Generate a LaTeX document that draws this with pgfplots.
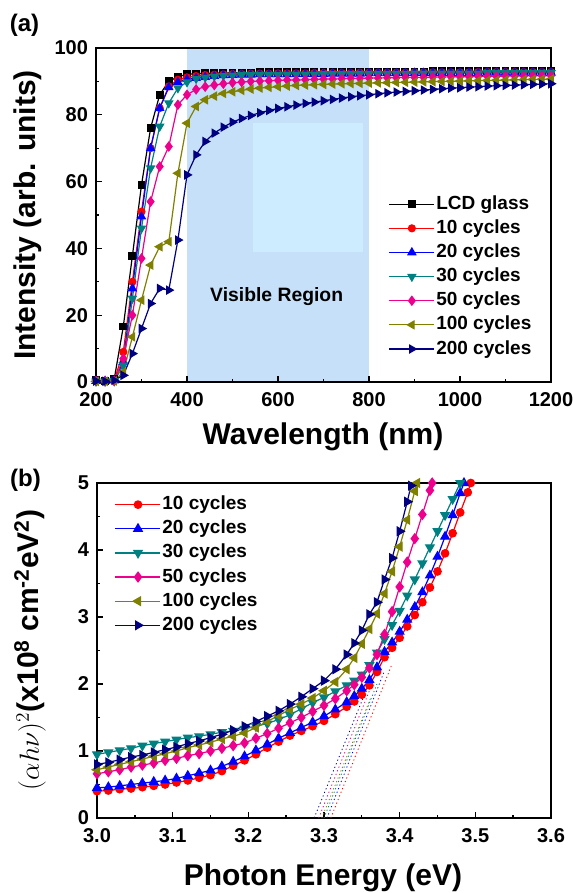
\documentclass[border=0pt]{standalone}
\usepackage[no-math]{fontspec}
\setmainfont{Liberation Sans}
\usepackage{pgfplots}
\usepackage{pgfplotstable}
\pgfplotsset{compat=1.18}

\definecolor{visblue}{RGB}{198,224,250}
\definecolor{visblue2}{RGB}{206,236,255}
\definecolor{cteal}{RGB}{0,128,128}
\definecolor{colive}{RGB}{128,128,0}
\definecolor{cnavy}{RGB}{0,0,128}

% transmittance, every 20 nm
\pgfplotstableread{
lam  glass c10  c20  c30  c50  c100  c200
200  0.5   0.3  0.3  0.2  0.3  0.2   0.3
220  0.4   0.3  0.3  0.2  0.2  0.2   0.2
240  0.8   0.5  0.4  0.3  0.3  0.3   0.5
260  16.6  9.0  6.0  5.0  7.0  3.0   2.0
280  37.8  30.0 28.0 25.0 20.0 13.5  8.5
300  59.0  51.0 49.5 46.0 37.0 24.5  16.0
320  76.0  70.0 70.0 64.0 54.0 35.0  23.5
340  86.0  82.0 82.0 76.5 64.5 40.5  28.0
360  90.0  88.5 88.2 83.5 70.5 42.0  27.5
380  91.4  90.5 89.8 88.0 83.0 62.5  42.5
400  92.1  91.2 90.6 89.8 86.0 77.5  62.0
420  92.3  91.6 91.0 90.8 87.6 82.5  68.0
440  92.4  91.9 91.3 91.2 88.4 84.5  72.0
460  92.5  92.0 91.6 91.5 88.9 85.6  74.5
480  92.5  92.1 91.8 91.7 89.3 86.4  76.3
500  92.6  92.2 91.9 91.8 89.6 86.9  77.8
520  92.6  92.2 92.0 91.9 89.8 87.3  78.9
540  92.6  92.3 92.0 91.9 90.0 87.7  79.8
560  92.7  92.3 92.1 92.0 90.1 88.0  80.6
580  92.7  92.3 92.1 92.0 90.2 88.2  81.3
600  92.7  92.4 92.1 92.0 90.3 88.4  81.9
620  92.7  92.4 92.1 92.1 90.4 88.6  82.4
640  92.7  92.4 92.2 92.1 90.4 88.8  82.9
660  92.8  92.4 92.2 92.1 90.5 88.9  83.4
680  92.8  92.5 92.2 92.1 90.6 89.0  83.8
700  92.8  92.5 92.2 92.2 90.7 89.1  84.2
720  92.8  92.5 92.3 92.2 90.7 89.2  84.6
740  92.8  92.5 92.3 92.2 90.8 89.3  85.0
760  92.8  92.5 92.3 92.2 90.9 89.35 85.4
780  92.9  92.6 92.3 92.3 90.9 89.4  85.7
800  92.9  92.6 92.4 92.3 91.0 89.5  86.0
820  92.9  92.6 92.4 92.3 91.0 89.56 86.3
840  92.9  92.6 92.4 92.3 91.1 89.62 86.6
860  92.9  92.6 92.4 92.3 91.1 89.68 86.8
880  92.9  92.6 92.4 92.3 91.2 89.74 87.0
900  92.9  92.7 92.5 92.4 91.2 89.8  87.2
920  92.9  92.7 92.5 92.4 91.2 89.86 87.4
940  93.0  92.7 92.5 92.4 91.3 89.92 87.6
960  93.0  92.7 92.5 92.4 91.3 89.98 87.8
980  93.0  92.7 92.5 92.4 91.4 90.04 88.0
1000 93.0  92.7 92.5 92.4 91.4 90.1  88.1
1020 93.0  92.7 92.5 92.4 91.4 90.16 88.3
1040 93.0  92.8 92.5 92.4 91.5 90.22 88.4
1060 93.0  92.8 92.6 92.5 91.5 90.28 88.6
1080 93.0  92.8 92.6 92.5 91.5 90.34 88.7
1100 93.0  92.8 92.6 92.5 91.6 90.4  88.8
1120 93.0  92.8 92.6 92.5 91.6 90.46 88.9
1140 93.0  92.8 92.6 92.5 91.6 90.52 89.0
1160 93.0  92.8 92.6 92.5 91.7 90.58 89.1
1180 93.0  92.8 92.6 92.5 91.7 90.64 89.2
1200 93.0  92.8 92.6 92.5 91.7 90.7  89.3
}\transdata

\pgfplotsset{
  panel/.style={
    scale only axis, anchor=south west,
    axis line style={line width=1.1pt},
    tick style={line width=1pt, black},
    tick align=inside, xtick pos=bottom, ytick pos=left,
    major tick length=4.5pt, minor tick length=2.5pt,
    minor x tick num=1, minor y tick num=1,
    /pgf/number format/assume math mode=true,
    /pgf/number format/1000 sep={},
    tick label style={font=\fontsize{15}{15}\selectfont\bfseries},
    xticklabel style={yshift=-4.5pt},
    yticklabel style={xshift=-2.5pt},
    legend cell align=left,
    legend image code/.code={%
      \draw[mark repeat=2, mark phase=2, #1] plot coordinates {(0pt,0pt) (16.9pt,0pt) (33.75pt,0pt)};},
    legend style={draw=none, fill=none, anchor=north west,
      font=\fontsize{14.25}{14.25}\selectfont\bfseries, row sep=2.6pt,
      nodes={inner sep=1pt, text height=10.5pt, text depth=3pt}},
    every axis plot/.append style={line width=0.9pt, mark options={solid}},
  },
}

\begin{document}
\begin{tikzpicture}
% (a) transmittance
\begin{axis}[panel, at={(72pt,383.25pt)}, width=341.25pt, height=250.5pt,
  xmin=200, xmax=1200, ymin=0, ymax=100,
  xtick={200,400,...,1200}, ytick={0,20,...,100},
  axis on top,
  legend style={at={(rel axis cs:0.634,0.572)}},
]
\fill[visblue] (axis cs:400,0) rectangle (axis cs:800,100);
\fill[visblue2] (axis cs:545,38.9) rectangle (axis cs:787,77.6);
\node[font=\fontsize{14.5}{14.5}\selectfont\bfseries] at (axis cs:597,25.5) {Visible Region};
\addplot[black, mark=square*, mark size=2.5pt] table[x=lam, y=glass] {\transdata};
\addlegendentry{LCD glass}
\addplot[red, mark=*, mark size=2.6pt] table[x=lam, y=c10] {\transdata};
\addlegendentry{10 cycles}
\addplot[blue, mark=triangle*, mark size=3.3pt] table[x=lam, y=c20] {\transdata};
\addlegendentry{20 cycles}
\addplot[cteal, mark=triangle*, mark size=3.3pt, mark options={rotate=180}] table[x=lam, y=c30] {\transdata};
\addlegendentry{30 cycles}
\addplot[magenta, mark=diamond*, mark size=3.3pt] table[x=lam, y=c50] {\transdata};
\addlegendentry{50 cycles}
\addplot[colive, mark=triangle*, mark size=3.3pt, mark options={rotate=90}] table[x=lam, y=c100] {\transdata};
\addlegendentry{100 cycles}
\addplot[cnavy, mark=triangle*, mark size=3.3pt, mark options={rotate=-90}] table[x=lam, y=c200] {\transdata};
\addlegendentry{200 cycles}
\end{axis}

% (b) Tauc plot
\begin{axis}[panel, at={(72.75pt,56.25pt)}, width=340.5pt, height=251.25pt,
  xmin=3.0, xmax=3.6, ymin=0, ymax=5,
  xtick={3.0,3.1,...,3.61}, ytick={0,1,...,5},
  xticklabel style={/pgf/number format/.cd, fixed, fixed zerofill, precision=1},
  legend style={at={(rel axis cs:0.03,0.975)}},
]
\addplot[red, mark=*, mark size=2.8pt] coordinates {
(3.000,0.40) (3.015,0.41) (3.030,0.43) (3.045,0.44) (3.060,0.46) (3.075,0.48)
(3.090,0.50) (3.105,0.53) (3.120,0.56) (3.135,0.60) (3.150,0.64) (3.165,0.70)
(3.180,0.78) (3.195,0.86) (3.210,0.95) (3.225,1.05) (3.240,1.14) (3.255,1.23)
(3.270,1.30) (3.285,1.37) (3.300,1.45) (3.315,1.55) (3.330,1.66) (3.340,1.74)
(3.350,1.84) (3.360,1.98) (3.370,2.18) (3.380,2.40) (3.390,2.54) (3.400,2.69)
(3.410,2.86) (3.420,3.03) (3.430,3.22) (3.440,3.44) (3.450,3.68) (3.460,3.95)
(3.470,4.25) (3.480,4.56) (3.490,4.86) (3.494,5.00)};
\addlegendentry{10 cycles}
\addplot[blue, mark=triangle*, mark size=3.6pt] coordinates {
(3.000,0.45) (3.015,0.46) (3.030,0.48) (3.045,0.50) (3.060,0.52) (3.075,0.54)
(3.090,0.56) (3.105,0.59) (3.120,0.63) (3.135,0.67) (3.150,0.71) (3.165,0.77)
(3.180,0.84) (3.195,0.92) (3.210,1.01) (3.225,1.10) (3.240,1.19) (3.255,1.27)
(3.270,1.35) (3.285,1.43) (3.300,1.52) (3.315,1.62) (3.330,1.73) (3.340,1.82)
(3.350,1.93) (3.360,2.06) (3.370,2.25) (3.380,2.48) (3.390,2.62) (3.400,2.78)
(3.410,2.96) (3.420,3.15) (3.430,3.37) (3.440,3.62) (3.450,3.90) (3.460,4.20)
(3.470,4.52) (3.480,4.85) (3.485,5.00)};
\addlegendentry{20 cycles}
\addplot[cteal, mark=triangle*, mark size=3.6pt, mark options={rotate=180}] coordinates {
(3.000,0.95) (3.015,0.98) (3.030,1.01) (3.045,1.04) (3.060,1.08) (3.075,1.11)
(3.090,1.14) (3.105,1.17) (3.120,1.20) (3.135,1.22) (3.150,1.25) (3.165,1.28)
(3.180,1.30) (3.195,1.33) (3.210,1.37) (3.225,1.41) (3.240,1.47) (3.255,1.54)
(3.270,1.63) (3.285,1.72) (3.300,1.80) (3.315,1.89) (3.330,1.98) (3.340,2.05)
(3.350,2.14) (3.360,2.28) (3.370,2.47) (3.380,2.67) (3.390,2.88) (3.400,3.09)
(3.410,3.32) (3.420,3.56) (3.430,3.80) (3.440,4.04) (3.450,4.28) (3.460,4.52)
(3.470,4.76) (3.480,5.00)};
\addlegendentry{30 cycles}
\addplot[magenta, mark=diamond*, mark size=3.6pt] coordinates {
(3.000,0.66) (3.015,0.69) (3.030,0.72) (3.045,0.76) (3.060,0.79) (3.075,0.82)
(3.090,0.86) (3.105,0.89) (3.120,0.93) (3.135,0.96) (3.150,1.00) (3.165,1.04)
(3.180,1.08) (3.195,1.12) (3.210,1.19) (3.225,1.26) (3.240,1.34) (3.255,1.42)
(3.270,1.50) (3.285,1.59) (3.300,1.68) (3.315,1.78) (3.330,1.90) (3.340,1.99)
(3.350,2.10) (3.360,2.24) (3.370,2.44) (3.380,2.74) (3.390,3.08) (3.400,3.45)
(3.410,3.82) (3.420,4.17) (3.430,4.53) (3.440,4.89) (3.443,5.00)};
\addlegendentry{50 cycles}
\addplot[colive, mark=triangle*, mark size=3.6pt, mark options={rotate=90}] coordinates {
(3.000,0.72) (3.015,0.76) (3.030,0.80) (3.045,0.84) (3.060,0.88) (3.075,0.92)
(3.090,0.96) (3.105,1.00) (3.120,1.05) (3.135,1.09) (3.150,1.13) (3.165,1.18)
(3.180,1.22) (3.195,1.27) (3.210,1.35) (3.225,1.44) (3.240,1.53) (3.255,1.62)
(3.270,1.70) (3.285,1.79) (3.300,1.90) (3.315,2.03) (3.330,2.22) (3.340,2.39)
(3.350,2.60) (3.360,2.82) (3.370,3.05) (3.380,3.35) (3.390,3.68) (3.400,4.05)
(3.410,4.45) (3.420,4.88) (3.423,5.00)};
\addlegendentry{100 cycles}
\addplot[cnavy, mark=triangle*, mark size=3.6pt, mark options={rotate=-90}] coordinates {
(3.000,0.80) (3.015,0.83) (3.030,0.87) (3.045,0.91) (3.060,0.94) (3.075,0.98)
(3.090,1.02) (3.105,1.06) (3.120,1.11) (3.135,1.15) (3.150,1.20) (3.165,1.25)
(3.180,1.31) (3.195,1.37) (3.210,1.44) (3.225,1.52) (3.240,1.60) (3.255,1.70)
(3.270,1.81) (3.285,1.93) (3.300,2.05) (3.315,2.22) (3.330,2.44) (3.340,2.61)
(3.350,2.80) (3.360,3.04) (3.370,3.22) (3.380,3.56) (3.390,3.88) (3.400,4.28)
(3.410,4.72) (3.415,4.96)};
\addlegendentry{200 cycles}
% linear fits to the absorption edge
\addplot[cnavy, dotted, line width=0.6pt, forget plot] coordinates {(3.287,0) (3.352,1.8)};
\addplot[magenta, dotted, line width=0.6pt, forget plot] coordinates {(3.293,0) (3.360,1.9)};
\addplot[colive, dotted, line width=0.6pt, forget plot] coordinates {(3.297,0) (3.362,1.8)};
\addplot[cteal, dotted, line width=0.6pt, forget plot] coordinates {(3.300,0) (3.370,2.0)};
\addplot[blue, dotted, line width=0.6pt, forget plot] coordinates {(3.304,0) (3.380,2.2)};
\addplot[red, dotted, line width=0.6pt, forget plot] coordinates {(3.309,0) (3.390,2.3)};
\end{axis}

% labels
\node[font=\fontsize{18}{18}\selectfont\bfseries] at (18.4pt,651pt) {(a)};
\node[font=\fontsize{18}{18}\selectfont\bfseries] at (19.1pt,309.75pt) {(b)};
\node[font=\fontsize{22.5}{22.5}\selectfont\bfseries] at (242.25pt,342pt) {Wavelength (nm)};
\node[font=\fontsize{22.5}{22.5}\selectfont\bfseries, rotate=90] at (21pt,508.5pt) {Intensity (arb. units)};
\node[font=\fontsize{22.5}{22.5}\selectfont\bfseries] at (242.25pt,11.25pt) {Photon Energy (eV)};
\node[font=\fontsize{22.5}{22.5}\selectfont\bfseries, rotate=90] at (22.5pt,182.25pt)
  {$(\alpha h\nu)^2$(x10\textsuperscript{8} cm\textsuperscript{-2}eV\textsuperscript{2})};

\pgfresetboundingbox
\path[use as bounding box] (0,0) rectangle (429.75pt,669.75pt);
\end{tikzpicture}
\end{document}
